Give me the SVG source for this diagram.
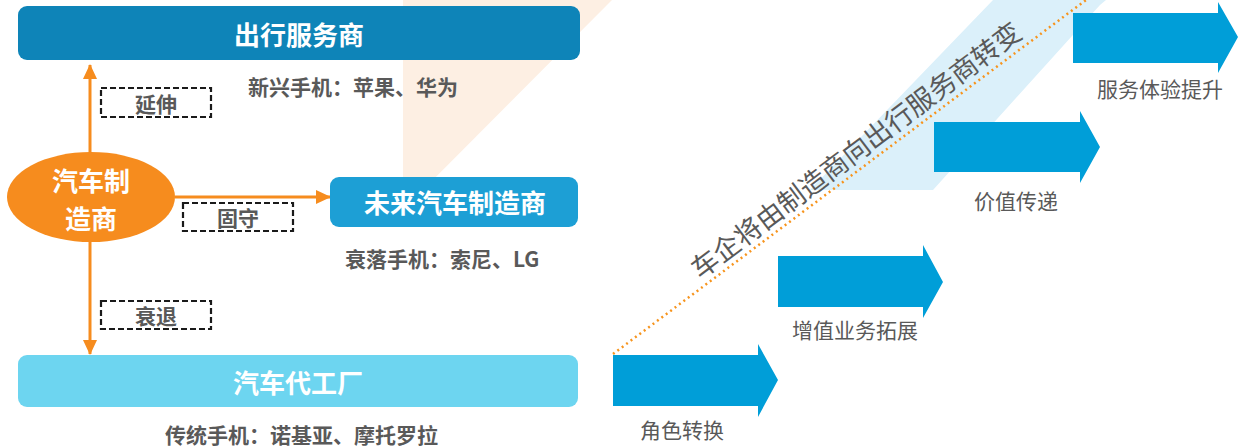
<svg xmlns="http://www.w3.org/2000/svg" width="1247" height="448" viewBox="0 0 1247 448">
<style>
.t{font-family:"Noto Sans CJK SC","Liberation Sans",sans-serif;}
.title{font-size:26px;font-weight:bold;fill:#ffffff;text-anchor:middle;dominant-baseline:central;}
.note{font-size:21px;font-weight:bold;fill:#595959;}
.lab{font-size:21px;font-weight:bold;fill:#595959;text-anchor:middle;dominant-baseline:central;}
.step{font-size:21px;fill:#595959;text-anchor:middle;dominant-baseline:central;}
.dash{fill:#ffffff;stroke:#1a1a1a;stroke-width:2.2;stroke-dasharray:6 3;}
.conn{stroke:#f68c1e;stroke-width:3;fill:none;}
.barrow{fill:#009ed8;}
</style>
<defs>
<marker id="ah" markerUnits="userSpaceOnUse" markerWidth="16" markerHeight="16" refX="14" refY="8" orient="auto">
<path d="M0,1 L15,8 L0,15 Z" fill="#f68c1e"/>
</marker>
</defs>
<rect width="1247" height="448" fill="#ffffff"/>
<g id="background">
<polygon points="403,0 612,0 403,210" fill="#fdefe3"/>
<polygon points="810,190 933,190 1100,5 1106,0 993,0" fill="#dbf0fa"/>
<line x1="613" y1="354" x2="1086" y2="0" stroke="#f7941d" stroke-width="2.5" stroke-dasharray="2 3.5"/>
<text class="t" x="855" y="149" font-size="27" fill="#595959" text-anchor="middle" dominant-baseline="central" transform="rotate(-37 855 149)">车企将由制造商向出行服务商转变</text>
</g>
<g id="connectors">
<line class="conn" x1="90" y1="160" x2="90" y2="65" marker-end="url(#ah)"/>
<line class="conn" x1="175" y1="197" x2="330" y2="197" marker-end="url(#ah)"/>
<line class="conn" x1="90" y1="240" x2="90" y2="354" marker-end="url(#ah)"/>
</g>
<g id="node-service">
<rect x="18" y="6" width="562" height="54" rx="9" fill="#0e84b8"/>
<text class="t title" x="299" y="33">出行服务商</text>
<text class="t note" x="248" y="95">新兴手机：苹果、华为</text>
</g>
<g id="label-extend">
<rect class="dash" x="101" y="88" width="110" height="29"/>
<text class="t lab" x="156" y="103">延伸</text>
</g>
<g id="node-maker">
<ellipse cx="91" cy="197" rx="84" ry="45" fill="#f68c1e"/>
<text class="t title" x="91" y="179" style="font-size:26px">汽车制</text>
<text class="t title" x="91" y="217" style="font-size:26px">造商</text>
</g>
<g id="label-keep">
<rect class="dash" x="183" y="203" width="110" height="28"/>
<text class="t lab" x="238" y="217">固守</text>
</g>
<g id="node-future">
<rect x="330" y="177" width="248" height="50" rx="9" fill="#1d9fd5"/>
<text class="t title" x="455" y="201">未来汽车制造商</text>
<text class="t note" x="345" y="267">衰落手机：索尼、LG</text>
</g>
<g id="label-decline">
<rect class="dash" x="101" y="301" width="110" height="28"/>
<text class="t lab" x="156" y="315">衰退</text>
</g>
<g id="node-oem">
<rect x="18" y="355" width="560" height="52" rx="9" fill="#6dd5f0"/>
<text class="t title" x="298" y="381">汽车代工厂</text>
<text class="t note" x="165" y="443">传统手机：诺基亚、摩托罗拉</text>
</g>
<g id="step1">
<polygon class="barrow" points="613,355 758,355 758,344 778,380 758,417 758,406 613,406"/>
<text class="t step" x="682" y="429">角色转换</text>
</g>
<g id="step2">
<polygon class="barrow" points="778,256 923,256 923,245 943,282 923,318 923,307 778,307"/>
<text class="t step" x="855" y="329">增值业务拓展</text>
</g>
<g id="step3">
<polygon class="barrow" points="934,122 1080,122 1080,111 1100,147 1080,183 1080,172 934,172"/>
<text class="t step" x="1016" y="200">价值传递</text>
</g>
<g id="step4">
<polygon class="barrow" points="1073,13 1218,13 1218,2 1238,37 1218,73 1218,63 1073,63"/>
<text class="t step" x="1160" y="88">服务体验提升</text>
</g>
</svg>
